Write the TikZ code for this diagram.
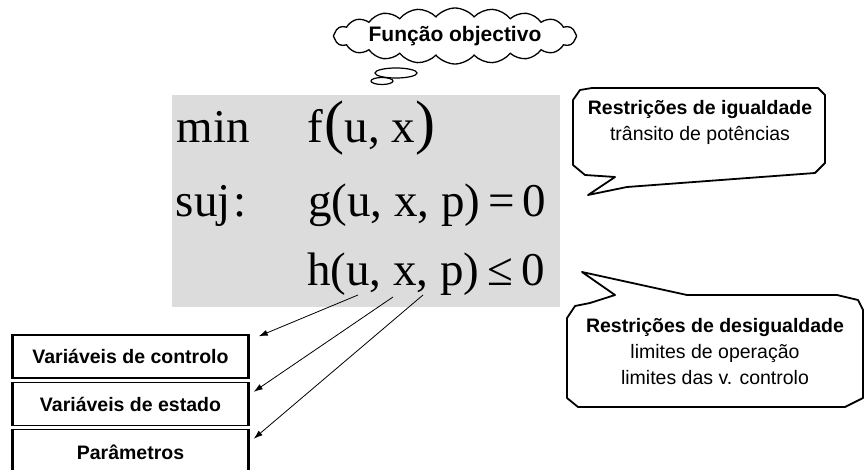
\documentclass[tikz,border=0pt]{standalone}
\usepackage{fontspec}
\setmainfont{Liberation Serif}
\newfontfamily\arialfont{Liberation Sans}
\usetikzlibrary{shapes.symbols,arrows.meta}
\definecolor{panelgray}{RGB}{220,220,220}
\tikzset{
  varbox/.style={draw, line width=1.4pt, minimum width=235pt, minimum height=43pt, inner sep=0pt,
    font=\arialfont\bfseries\fontsize{19.5}{22}\selectfont},
  calltext/.style={align=center, inner sep=0pt, font=\arialfont\fontsize{19.5}{26}\selectfont},
  eqtext/.style={inner sep=0pt, font=\fontsize{47}{50}\selectfont},
  callline/.style={line width=1.8pt, line join=round},
  varrow/.style={-{Latex[length=9pt,width=6pt]}, line width=0.8pt}
}
\begin{document}
\begin{tikzpicture}[x=1pt,y=-1pt]
    \useasboundingbox (0,0) rectangle (865,470);
    \clip (0,0) rectangle (865,470);
    % problema de optimizacao
    \fill[panelgray] (172,95) rectangle (560,307);
    \node[eqtext, anchor=base east] (minlbl) at (250,143) {min};
    \node[eqtext, anchor=base west] (fobj) at (307,143)
        {f\kern2pt{\fontsize{60}{60}\selectfont(}u, x{\fontsize{60}{60}\selectfont)}};
    \node[eqtext, anchor=base east] (sujlbl) at (247,217) {suj\kern3pt:};
    \node[eqtext, anchor=base west] (geq) at (308,217) {g(u, x, p)\kern8pt=\kern8pt0};
    \node[eqtext, anchor=base west] (hineq) at (307,286) {h(u, x, p)\kern8pt≤\kern8pt0};
    % nuvem
    \node[cloud, draw, line width=1.3pt, cloud puffs=20, cloud puff arc=100,
        cloud ignores aspect, minimum width=240pt, minimum height=56pt, inner sep=0pt,
        font=\arialfont\bfseries\fontsize{21}{24}\selectfont] (objcloud) at (455,36) {Função objectivo};
    \draw[line width=1.2pt] (396,73) ellipse [x radius=21, y radius=5];
    \draw[line width=1.2pt] (382,81) ellipse [x radius=11, y radius=3.5];
    % baloes
    \draw[callline, fill=white] (573,100) -- (580,90) -- (592,88) -- (818,88) -- (825,95)
        -- (825,163) -- (815,173) -- (627,187) -- (588,195) -- (615,177) -- (585,175)
        -- (573,165) -- cycle;
    \node[calltext] (eqcall) at (700,122)
        {{\bfseries Restrições de igualdade}\\trânsito de potências};
    \draw[callline, fill=white] (582,272) -- (687,295) -- (837,295) -- (858,300) -- (863,310)
        -- (863,398) -- (845,407) -- (578,407) -- (567,398) -- (567,318) -- (575,306)
        -- (590,303) -- (615,295) -- cycle;
    \node[calltext] (ineqcall) at (715,352)
        {{\bfseries Restrições de desigualdade}\\limites de operação\\limites das v. controlo};
    % variaveis
    \node[varbox] (ctrlbox) at (130.5,356.5) {Variáveis de controlo};
    \node[varbox] (statebox) at (130.5,404) {Variáveis de estado};
    \node[varbox, minimum height=45pt] (parbox) at (130.5,452) {Parâmetros};
    \foreach \b in {ctrlbox,statebox,parbox} {
    \draw[line width=3pt] (\b.north west) -- (\b.south west) (\b.north east) -- (\b.south east);
    }
    % setas
    \coordinate (uarg) at (358,295);
    \coordinate (xarg) at (393,297);
    \coordinate (parg) at (423,295);
    \draw[varrow] (uarg) -- ([xshift=10pt,yshift=-2pt]ctrlbox.north east);
    \draw[varrow] (xarg) -- ([xshift=5pt,yshift=-10pt]statebox.north east);
    \draw[varrow] (parg) -- ([xshift=5pt,yshift=-10pt]parbox.north east);
\end{tikzpicture}
\end{document}
